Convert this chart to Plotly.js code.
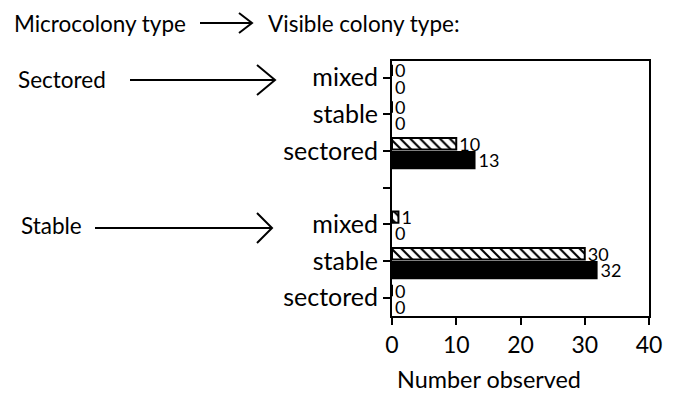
<!DOCTYPE html>
<html>
<head>
<meta charset="utf-8">
<script src="https://cdn.plot.ly/plotly-3.0.1.min.js"></script>
<style>html,body{margin:0;padding:0;background:#fff;}</style>
</head>
<body>
<div id="chart" style="width:673px;height:393px;"></div>
<script>
// ---- data ----
var groups = ['Sectored', 'Stable'];                 // microcolony type
var visibleTypes = ['mixed', 'stable', 'sectored'];  // visible colony type (top to bottom)
var hatchedValues = [0, 0, 10, 1, 30, 0];            // hatched series (Sectored group, then Stable group)
var solidValues   = [0, 0, 13, 0, 32, 0];            // black series
var xTicks = [0, 10, 20, 30, 40];

// ---- layout helpers ----
var W = 673, H = 393;
var M = {l: 392, r: 24, t: 61, b: 77};
var PW = W - M.l - M.r, PH = H - M.t - M.b;
function px(x) { return (x - M.l) / PW; }
function py(y) { return (H - M.b - y) / PH; }

// y positions: top group 6,5,4 ; gap 3 ; bottom group 2,1,0
var yPos = [], tickVals = [], tickText = [];
var n = visibleTypes.length;
groups.forEach(function (g, gi) {
  visibleTypes.forEach(function (t, ti) {
    yPos.push((groups.length - 1 - gi) * (n + 1) + (n - 1 - ti));
  });
});
for (var i = 0; i < yPos.length; i++) { tickVals.push(yPos[i]); tickText.push(visibleTypes[i % n]); }
tickVals.push(n); tickText.push('');

var FONT = 'Lato, "Open Sans", sans-serif';

var solid = {
  type: 'bar', orientation: 'h', x: solidValues, y: yPos,
  width: 0.5, offset: -0.5,
  marker: {color: '#000', line: {width: 0}},
  text: solidValues.map(String), textposition: 'outside',
  textfont: {family: FONT, size: 18, color: '#000'},
  constraintext: 'none', cliponaxis: false, hoverinfo: 'none', showlegend: false
};
var hatched = {
  type: 'bar', orientation: 'h', x: hatchedValues, y: yPos,
  width: 0.31, offset: 0.04,
  marker: {color: '#fff', line: {width: 2, color: '#000'},
           pattern: {shape: '\\', fgcolor: '#000', bgcolor: '#fff', size: 7, solidity: 0.3, fillmode: 'replace'}},
  text: hatchedValues.map(String), textposition: 'outside',
  textfont: {family: FONT, size: 18, color: '#000'},
  constraintext: 'none', cliponaxis: false, hoverinfo: 'none', showlegend: false
};

function arrow(x0, x1, y, hx, hy) {
  return [
    {type: 'line', xref: 'paper', yref: 'paper', x0: px(x0), x1: px(x1), y0: py(y), y1: py(y), line: {color: '#000', width: 2}},
    {type: 'path', xref: 'paper', yref: 'paper',
     path: 'M ' + px(x1 - hx) + ' ' + py(y - hy) + ' L ' + px(x1) + ' ' + py(y) + ' L ' + px(x1 - hx) + ' ' + py(y + hy),
     line: {color: '#000', width: 2}}
  ];
}
var shapes = [].concat(arrow(200, 252, 23, 13, 10), arrow(130, 275, 80, 18, 15), arrow(95, 272, 228, 15, 15));

function ann(text, x, y, size, anchor) {
  return {text: text, xref: 'paper', yref: 'paper', x: px(x), y: py(y), xanchor: anchor || 'left', yanchor: 'middle',
          showarrow: false, font: {family: FONT, size: size || 18, color: '#000'}};
}
var annotations = [
  ann('Microcolony type', 12, 23, 22.5),
  ann('Visible colony type:', 266, 23, 22.5),
  ann(groups[0], 16, 79, 22.5),
  ann(groups[1], 19, 226, 22.5),
  ann('Number observed', 489, 379, 23.4, 'center')
];

var layout = {
  width: W, height: H, margin: M,
  paper_bgcolor: '#fff', plot_bgcolor: '#fff',
  barmode: 'overlay',
  font: {family: FONT, color: '#000'},
  xaxis: {range: [0, 40], tickvals: xTicks, ticks: 'outside', ticklen: 7, tickwidth: 2, tickcolor: '#000',
          showline: true, linewidth: 2, linecolor: '#000', mirror: true, showgrid: false, zeroline: false,
          tickfont: {family: FONT, size: 23, color: '#000'}, fixedrange: true},
  yaxis: {range: [-0.5, 6.45], tickvals: tickVals, ticktext: tickText, ticks: 'outside', ticklen: 7, tickwidth: 2, tickcolor: '#000',
          showline: true, linewidth: 2, linecolor: '#000', mirror: true, showgrid: false, zeroline: false,
          tickfont: {family: FONT, size: 25, color: '#000'}, fixedrange: true},
  shapes: shapes,
  annotations: annotations
};

Plotly.newPlot('chart', [solid, hatched], layout, {staticPlot: true});
</script>
</body>
</html>
